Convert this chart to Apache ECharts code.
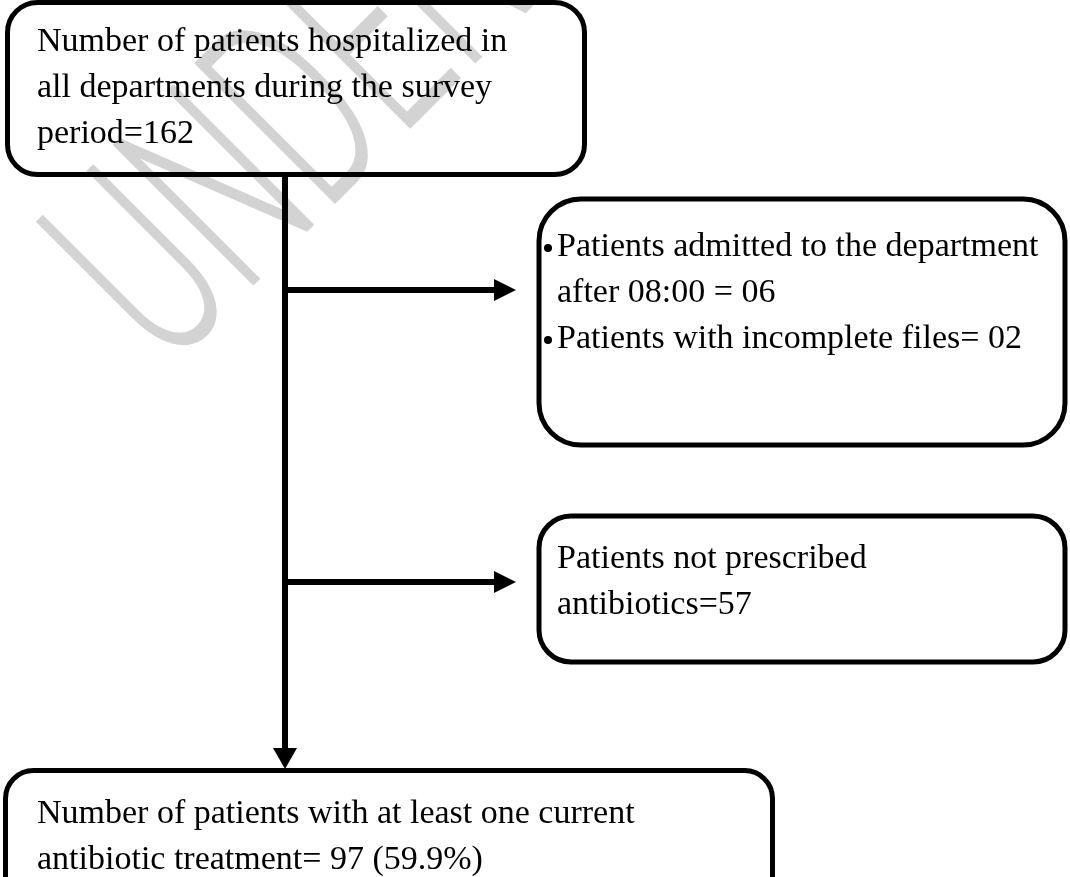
<!DOCTYPE html>
<html>
<head>
<meta charset="utf-8">
<script src="https://cdn.jsdelivr.net/npm/echarts@6/dist/echarts.min.js"></script>
<style>
  html, body { margin: 0; padding: 0; background: #fff; }
  #chart { width: 1070px; height: 877px; }
</style>
</head>
<body>
<div id="chart"></div>
<script>
// ---- data ----
const totalPatients = 162;
const admittedAfter8 = '06';
const incompleteFiles = '02';
const notPrescribed = 57;
const withAntibiotic = 97;
const withAntibioticPct = '59.9%';

const topLines = ['Number of patients hospitalized in', 'all departments during the survey', 'period=' + totalPatients];
const excl1Lines = ['Patients admitted to the department', 'after 08:00 = ' + admittedAfter8, 'Patients with incomplete files= ' + incompleteFiles];
const excl1Bullets = [true, false, true];
const excl2Lines = ['Patients not prescribed', 'antibiotics=' + notPrescribed];
const bottomLines = ['Number of patients with at least one current', 'antibiotic treatment= ' + withAntibiotic + ' (' + withAntibioticPct + ')'];
const watermarkText = 'UNDER';

// ---- layout ----
const FONT = '34px "Liberation Serif", "Times New Roman", serif';
const LH = 46;
const BW = 5;
const LW = 6;

const chart = echarts.init(document.getElementById('chart'), null, { renderer: 'canvas' });

const els = [];

els.push({
  type: 'text', x: 118, y: 322, rotation: Math.PI / 4, scaleX: 0.58, z: 1,
  style: { text: watermarkText, font: '300 280px Roboto, sans-serif', fill: '#d3d3d3', align: 'left', verticalAlign: 'middle' }
});

function box(x, y, w, h, r) {
  els.push({ type: 'rect', z: 5, shape: { x: x, y: y, width: w, height: h, r: r }, style: { fill: 'none', stroke: '#000', lineWidth: BW } });
}
function lines(arr, x, y0, bullets) {
  arr.forEach(function (t, i) {
    const yy = y0 + i * LH;
    els.push({ type: 'text', z: 6, x: x, y: yy, style: { text: t, font: FONT, fill: '#000', align: 'left', verticalAlign: 'middle' } });
    if (bullets && bullets[i]) {
      els.push({ type: 'circle', z: 6, shape: { cx: x - 9, cy: yy + 1, r: 4 }, style: { fill: '#000' } });
    }
  });
}
function hArrow(x0, x1, y) {
  els.push({ type: 'line', z: 5, shape: { x1: x0, y1: y, x2: x1 - 20, y2: y }, style: { stroke: '#000', lineWidth: LW } });
  els.push({ type: 'polygon', z: 5, shape: { points: [[x1 - 22, y - 11], [x1, y], [x1 - 22, y + 11]] }, style: { fill: '#000' } });
}

box(7.5, 2.5, 577, 172, 30);
lines(topLines, 37, 42, null);

// main vertical
els.push({ type: 'line', z: 5, shape: { x1: 285, y1: 174, x2: 285, y2: 750 }, style: { stroke: '#000', lineWidth: LW } });
els.push({ type: 'polygon', z: 5, shape: { points: [[273, 748], [297, 748], [285, 769]] }, style: { fill: '#000' } });

hArrow(285, 516, 290);
hArrow(285, 516, 582);

box(539, 199, 526, 246, 42);
lines(excl1Lines, 557, 247, excl1Bullets);

box(539, 516, 526, 146, 32);
lines(excl2Lines, 557, 559, null);

box(5.5, 770.5, 767, 140, 28);
lines(bottomLines, 37, 814, null);

chart.setOption({
  backgroundColor: '#ffffff',
  animation: false,
  graphic: { elements: els }
});
</script>
</body>
</html>
